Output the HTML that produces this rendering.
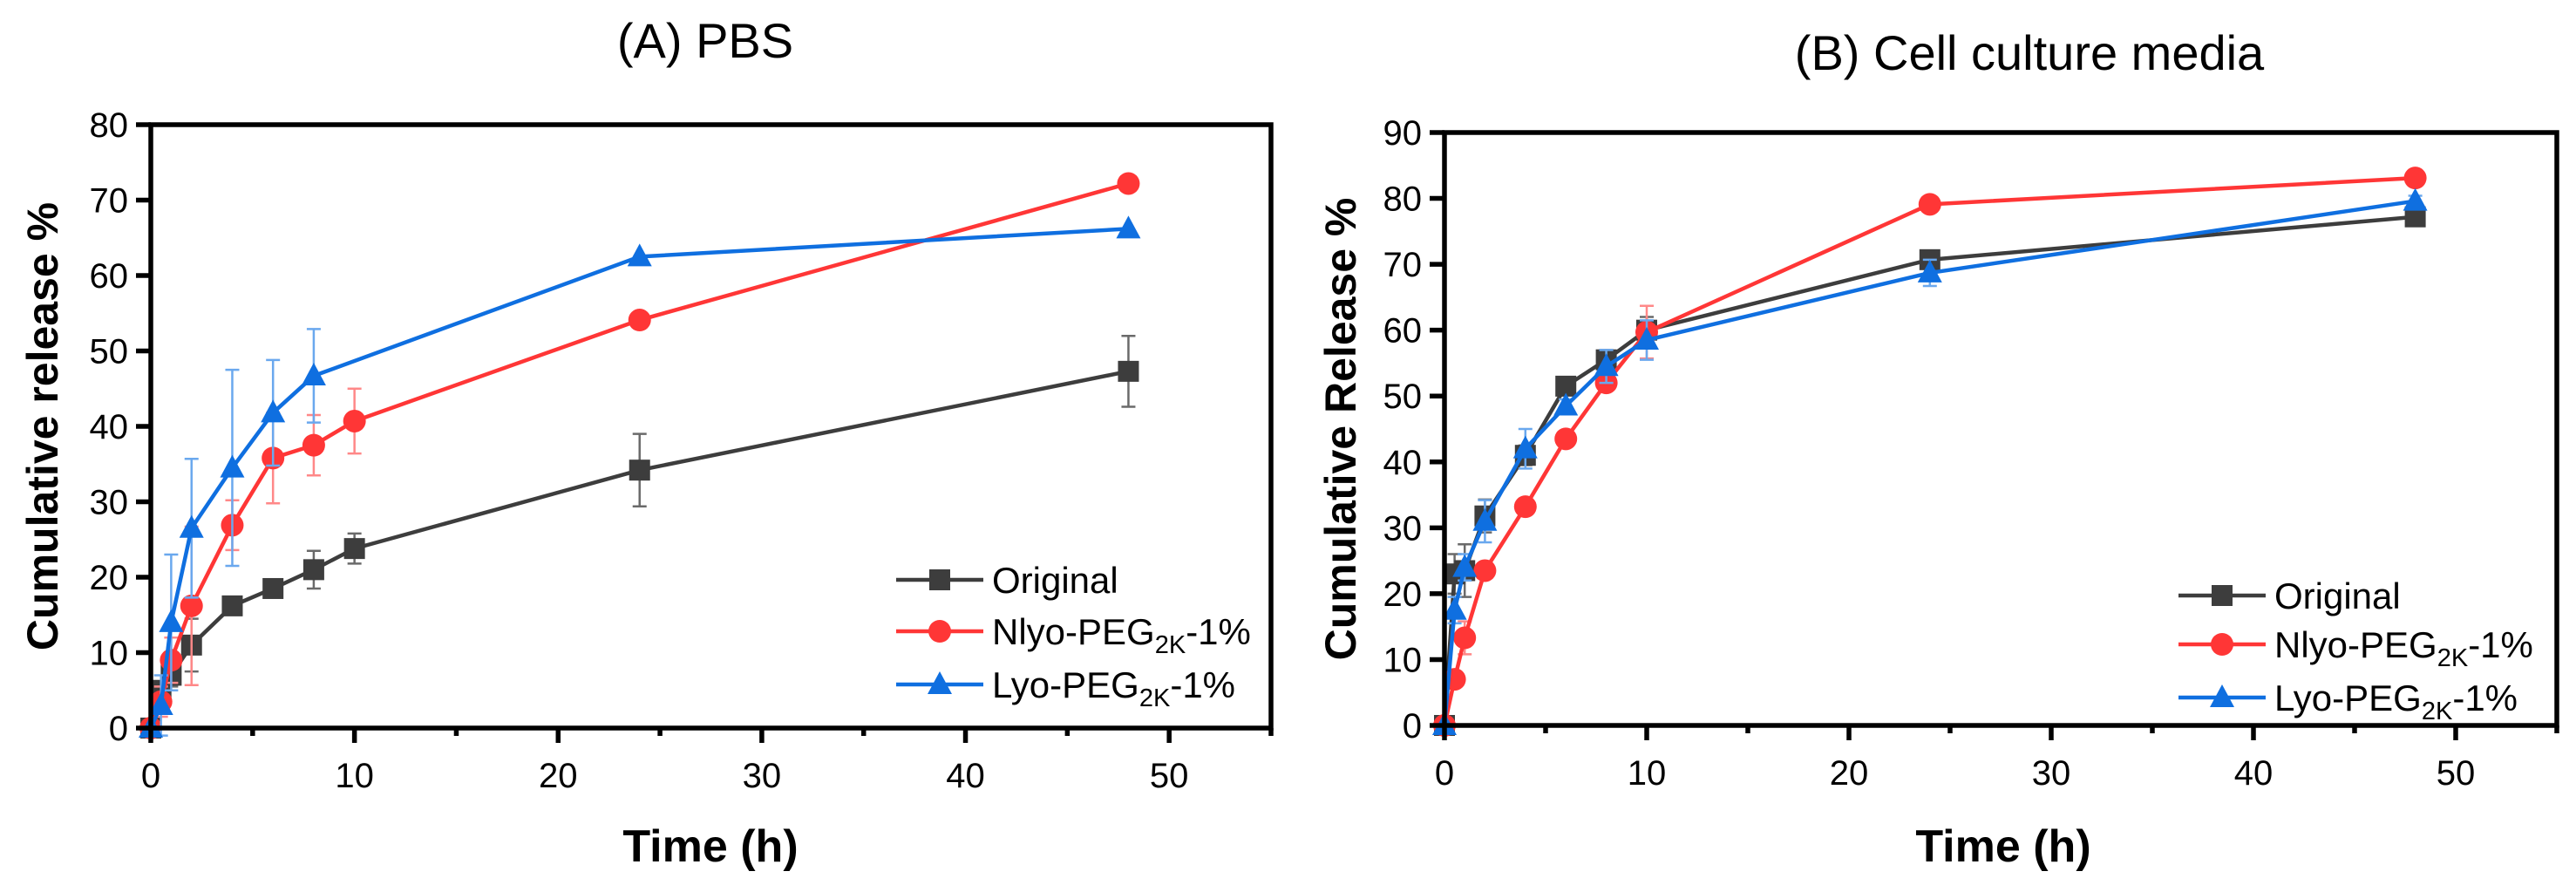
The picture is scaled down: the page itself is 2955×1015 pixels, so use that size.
<!DOCTYPE html>
<html><head><meta charset="utf-8"><style>
html,body{margin:0;padding:0;background:#fff;}
svg{display:block;font-family:"Liberation Sans",Arial,sans-serif;}
</style></head><body>
<svg id="fig" width="2955" height="1015" viewBox="0 0 2955 1015" xmlns="http://www.w3.org/2000/svg"></svg>
<script>
// ---- Panel A data (PBS) ----
const timesA = [0, 0.5, 1, 2, 4, 6, 8, 10, 24, 48];
const origA = [0, 5, 7, 11, 16.2, 18.5, 21, 23.8, 34.2, 47.3];
const origAErr = [0, 1, 1.5, 3.5, 0.5, 0.5, 2.5, 2, 4.8, 4.7];
const nlyoA = [0, 3.5, 9, 16.2, 26.9, 35.8, 37.5, 40.7, 54.1, 72.2];
const nlyoAErr = [0, 2, 3, 10.5, 3.3, 6, 4, 4.3, 0.5, 0.5];
const timesLyoA = [0, 0.5, 1, 2, 4, 6, 8, 24, 48];
const lyoA = [0, 3, 14, 26.5, 34.5, 41.8, 46.7, 62.5, 66.2];
const lyoAErr = [0, 4, 9, 9.2, 13, 7, 6.2, 0.5, 0.5];
// ---- Panel B data (cell culture media) ----
const timesB = [0, 0.5, 1, 2, 4, 6, 8, 10, 24, 48];
const origB = [0, 23, 23.5, 31.8, 41, 51.5, 55.5, 60, 70.7, 77.2];
const origBErr = [0, 3, 4, 2.5, 1.5, 0.8, 1.5, 2, 1, 0.8];
const nlyoB = [0, 7, 13.3, 23.5, 33.2, 43.5, 52, 59.7, 79.1, 83.1];
const nlyoBErr = [0, 1, 2.5, 1, 0.8, 0.8, 1, 4, 0.5, 0.5];
const lyoB = [0, 17.5, 24, 31, 42, 48.5, 54.5, 58.5, 68.7, 79.6];
const lyoBErr = [0, 2, 2, 3.2, 3, 1, 2.5, 3, 2, 0.8];
// ---- axes ----
const xTicks = [0, 10, 20, 30, 40, 50];
const yTicksA = [0, 10, 20, 30, 40, 50, 60, 70, 80];
const yTicksB = [0, 10, 20, 30, 40, 50, 60, 70, 80, 90];
const legendLabels = ["Original", "Nlyo-PEG", "Lyo-PEG"];

const NS = "http://www.w3.org/2000/svg";
const svg = document.getElementById("fig");
function el(tag, attrs, parent) {
  const e = document.createElementNS(NS, tag);
  for (const k in attrs) e.setAttribute(k, attrs[k]);
  (parent || svg).appendChild(e);
  return e;
}
const COL = {grey: "#3d3d3d", red: "#ff3636", blue: "#0f6fe0"};
const ERRCOL = {grey: "#6a6a6a", red: "#ff8888", blue: "#6aa8ee"};

function marker(g, type, cx, cy, color) {
  let m;
  if (type === "sq") m = el("rect", {x: cx - 12, y: cy - 12, width: 24, height: 24, fill: color}, g);
  else if (type === "ci") m = el("circle", {cx: cx, cy: cy, r: 13, fill: color}, g);
  else m = el("polygon", {points: `${cx},${cy - 15} ${cx + 14},${cy + 11} ${cx - 14},${cy + 11}`, fill: color}, g);
  return m;
}

function panel(cfg) {
  const {L, T, R, B, xmax, ymax, yTicks, series, title, titleX, titleY, yTitle, yTitleX, xTitleX, legX, legY, name} = cfg;
  const g = el("g", {});
  
  
  const sx = v => L + (v / xmax) * (R - L);
  const sy = v => B - (v / ymax) * (B - T);
  const t = el("text", {x: titleX, y: titleY, "font-size": 56, "text-anchor": "middle"}, g);
  t.textContent = title;
  
  
  series.forEach(s => {
    const sg = el("g", {}, g);
    
    
    s.x.forEach((xv, i) => {
      const e = s.err[i];
      if (e > 0.6) {
        const x = sx(xv), y1 = sy(s.y[i] - e), y2 = sy(s.y[i] + e);
        el("path", {d: `M${x},${y1}V${y2}M${x - 8},${y1}H${x + 8}M${x - 8},${y2}H${x + 8}`, stroke: ERRCOL[s.color], "stroke-width": 2.5, fill: "none"}, sg);
      }
    });
    const pts = s.x.map((xv, i) => sx(xv) + "," + sy(s.y[i])).join(" ");
    const pl = el("polyline", {points: pts, fill: "none", stroke: COL[s.color], "stroke-width": 4.5, "stroke-linejoin": "round"}, sg);
    
    
    s.x.forEach((xv, i) => {
      const m = marker(sg, s.mk, sx(xv), sy(s.y[i]), COL[s.color]);
      
      
    });
  });
  const fr = el("rect", {x: L, y: T, width: R - L, height: B - T, fill: "none", stroke: "#000", "stroke-width": 5.5}, g);
  
  
  for (let v = 0; v <= xmax; v += 5) {
    const major = v % 10 === 0;
    el("line", {x1: sx(v), x2: sx(v), y1: B, y2: B + (major ? 17 : 9), stroke: "#000", "stroke-width": 5.5}, g);
  }
  xTicks.forEach(v => {
    const tx = el("text", {x: sx(v), y: B + 68, "font-size": 40, "text-anchor": "middle"}, g);
    tx.textContent = v;
    
    
  });
  yTicks.forEach(v => {
    el("line", {x1: L - 17, x2: L, y1: sy(v), y2: sy(v), stroke: "#000", "stroke-width": 5.5}, g);
    const ty = el("text", {x: L - 26, y: sy(v) + 14, "font-size": 40, "text-anchor": "end"}, g);
    ty.textContent = v;
    
    
  });
  const xt = el("text", {x: xTitleX, y: 988, "font-size": 52, "font-weight": "bold", "text-anchor": "middle"}, g);
  xt.textContent = "Time (h)";
  
  
  const yt = el("text", {x: 0, y: 0, "font-size": 50, "font-weight": "bold", "text-anchor": "middle", transform: `translate(${yTitleX},${(T + B) / 2}) rotate(-90)`}, g);
  yt.textContent = yTitle;
  
  
  const lg = el("g", {}, g);
  
  
  series.forEach((s, i) => {
    const y = legY[i];
    const eg = el("g", {}, lg);
    
    
    el("line", {x1: legX, x2: legX + 100, y1: y, y2: y, stroke: COL[s.color], "stroke-width": 4.5}, eg);
    marker(eg, s.mk, legX + 50, y, COL[s.color]);
    const lt = el("text", {x: legX + 110, y: y + 15, "font-size": 42}, eg);
    if (i === 0) lt.textContent = legendLabels[0];
    else {
      lt.appendChild(document.createTextNode(legendLabels[i]));
      const sub = el("tspan", {"font-size": 29, dy: 10}, lt);
      sub.textContent = "2K";
      const rest = el("tspan", {dy: -10}, lt);
      rest.textContent = "-1%";
    }
  });
}

panel({name: "panel-a-pbs", L: 173, T: 143, R: 1458, B: 835, xmax: 55, ymax: 80, yTicks: yTicksA,
  title: "(A) PBS", titleX: 809, titleY: 66, yTitle: "Cumulative release %", yTitleX: 66, xTitleX: 815,
  legX: 1028, legY: [665, 724, 785],
  series: [
    {key: "original", x: timesA, y: origA, err: origAErr, color: "grey", mk: "sq"},
    {key: "nlyo", x: timesA, y: nlyoA, err: nlyoAErr, color: "red", mk: "ci"},
    {key: "lyo", x: timesLyoA, y: lyoA, err: lyoAErr, color: "blue", mk: "tr"}
  ]});
panel({name: "panel-b-media", L: 1657, T: 152, R: 2933, B: 832, xmax: 55, ymax: 90, yTicks: yTicksB,
  title: "(B) Cell culture media", titleX: 2328, titleY: 80, yTitle: "Cumulative Release %", yTitleX: 1555, xTitleX: 2298,
  legX: 2499, legY: [683, 739, 800],
  series: [
    {key: "original", x: timesB, y: origB, err: origBErr, color: "grey", mk: "sq"},
    {key: "nlyo", x: timesB, y: nlyoB, err: nlyoBErr, color: "red", mk: "ci"},
    {key: "lyo", x: timesB, y: lyoB, err: lyoBErr, color: "blue", mk: "tr"}
  ]});
</script>
</body></html>
